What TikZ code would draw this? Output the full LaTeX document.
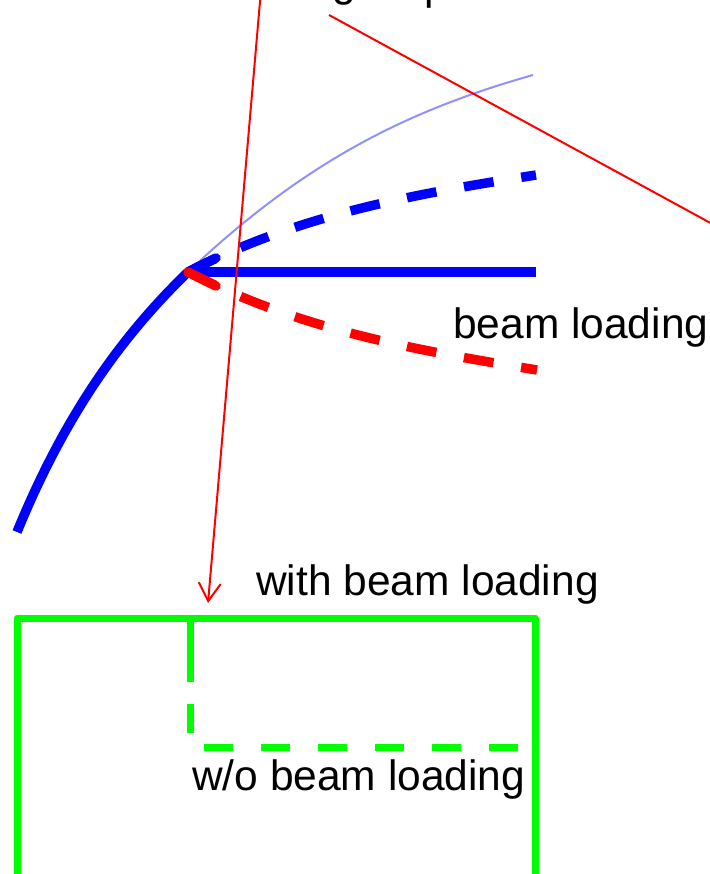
\documentclass[tikz,border=0pt]{standalone}
\usepackage{fontspec}
\setmainfont{Liberation Sans}
\usetikzlibrary{arrows.meta}
\definecolor{pblue}{RGB}{0,0,255}
\definecolor{lblue}{RGB}{145,145,250}
\definecolor{pred}{RGB}{255,0,0}
\definecolor{pgreen}{RGB}{0,255,0}
\begin{document}
\begin{tikzpicture}[x=1pt,y=-1pt,
  thickblue/.style={draw=pblue,line width=9.5pt},
  dashcurve/.style={line width=9.5pt,dash pattern=on 30pt off 28pt},
  thinred/.style={draw=pred,line width=2pt},
  greenline/.style={draw=pgreen,line width=7pt,line join=round},
  lbl/.style={font=\fontsize{42.5}{50}\selectfont,inner sep=0pt,anchor=base west}]
\useasboundingbox (0,0) rectangle (709,874);
% coordinates
\coordinate (tip) at (188,272);
\coordinate (cbot) at (17,532);
\coordinate (cend) at (533,75);
\coordinate (aend) at (536,272);
\coordinate (bend) at (536,175);
\coordinate (rend) at (537,370);
\coordinate (ubarb) at (216,258);
\coordinate (lbarb) at (216,286);
% curves
\draw[lblue,line width=2pt] (tip) .. controls (308,158) and (413,109) .. (cend);
\draw[thickblue] (cbot) .. controls (67,410) and (125,333) .. (tip);
\draw[thickblue] (aend) -- (tip);
\draw[pblue,dashcurve] (tip) .. controls (300,214) and (415,194) .. (bend);
\draw[pred,dashcurve] (tip) .. controls (300,330) and (415,350) .. (rend);
\draw[pblue,line width=9.5pt,line cap=round] (tip) -- (ubarb);
\draw[pred,line width=9.5pt,line cap=round] (tip) -- (lbarb);
% green
\coordinate (gl) at (17,880);
\coordinate (gtl) at (17,618);
\coordinate (gtr) at (535,618);
\coordinate (gr) at (535,880);
\coordinate (gm) at (190,618);
\coordinate (gms) at (190,682);
\coordinate (gds) at (190,704);
\coordinate (gdc) at (190,747);
\coordinate (gde) at (518,747);
\draw[greenline] (gl) -- (gtl) -- (gtr) -- (gr);
\draw[greenline] (gm) -- (gms);
\draw[greenline,dash pattern=on 29pt off 28pt] (gds) -- (gdc) -- (gde);
% texts
\node[lbl] (bl) at (453,338) {beam loading};
\node[lbl] (wbl) at (256,595) {with beam loading};
\node[lbl] (wobl) at (192,790) {w/o beam loading};
\node[lbl] (tg) at (332,-3) {g};
\node[lbl] (tp) at (424,0) {p};
% red thin lines
\coordinate (rtop) at (261,-10);
\coordinate (rtip) at (208,603);
\coordinate (r2a) at (329,15);
\coordinate (r2b) at (760,250);
\draw[thinred,-{Straight Barb[length=18pt,width=22pt]}] (rtop) -- (rtip);
\draw[thinred] (r2a) -- (r2b);
\end{tikzpicture}
\end{document}
